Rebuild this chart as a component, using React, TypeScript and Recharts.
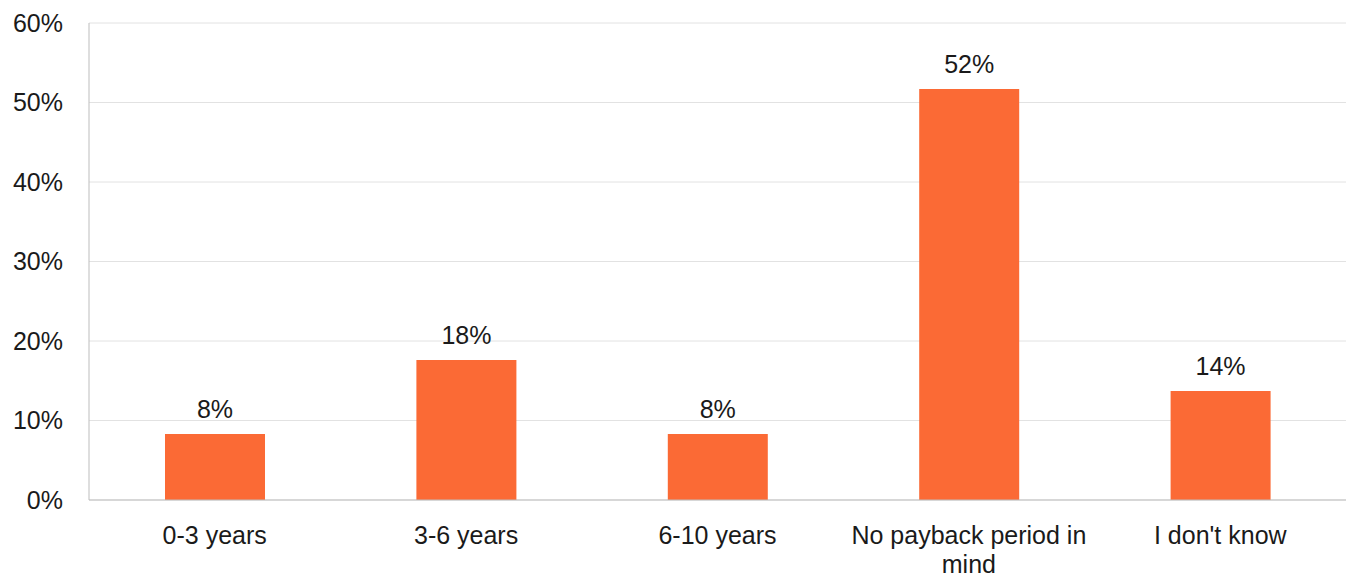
import React from "react";
import {
  BarChart,
  Bar,
  XAxis,
  YAxis,
  CartesianGrid,
  LabelList,
} from "recharts";

// Payback period survey answers (share of respondents, %)
const categories = [
  "0-3 years",
  "3-6 years",
  "6-10 years",
  "No payback period in mind",
  "I don't know",
];
const shares = [8.3, 17.6, 8.3, 51.7, 13.7];
const yTicks = [0, 10, 20, 30, 40, 50, 60];

const data = categories.map((name, i) => ({ name, share: shares[i] }));

const FONT = "'Liberation Sans', Arial, Helvetica, sans-serif";
const FONT_SIZE = 25;
const textStyle = { fontSize: FONT_SIZE, fontFamily: FONT };

// simple word wrap measured with a canvas
const measure = (() => {
  const ctx = document.createElement("canvas").getContext("2d")!;
  ctx.font = `${FONT_SIZE}px ${FONT}`;
  return (s: string) => ctx.measureText(s).width;
})();

const wrap = (label: string, maxWidth: number) => {
  const lines: string[] = [];
  let line = "";
  label.split(" ").forEach((w) => {
    const next = line ? `${line} ${w}` : w;
    if (line && measure(next) > maxWidth) {
      lines.push(line);
      line = w;
    } else {
      line = next;
    }
  });
  if (line) lines.push(line);
  return lines;
};

const CategoryTick = (props: any) => {
  const { x, y, payload } = props;
  const lines = wrap(String(payload.value), 262);
  return (
    <text x={x} y={y} textAnchor="middle" style={textStyle} fill="#1a1a1a">
      {lines.map((l, i) => (
        <tspan key={i} x={x} dy={i === 0 ? 18 : 29}>
          {l}
        </tspan>
      ))}
    </text>
  );
};

const App: React.FC = () => {
  return (
    <div style={{ position: "absolute", left: 0, top: 0 }}>
      <BarChart
        width={1349}
        height={578}
        data={data}
        margin={{ top: 23, right: 3, left: 0, bottom: 0 }}
      >
        <CartesianGrid vertical={false} stroke="#e2e2e2" />
        <XAxis
          dataKey="name"
          height={78}
          interval={0}
          tickLine={false}
          tickSize={0}
          tickMargin={26}
          axisLine={{ stroke: "#bdbdbd" }}
          tick={<CategoryTick />}
        />
        <YAxis
          width={89}
          domain={[0, 60]}
          ticks={yTicks}
          tickFormatter={(v: number) => `${v}%`}
          tickLine={false}
          tickSize={0}
          tickMargin={26}
          axisLine={{ stroke: "#bdbdbd" }}
          tick={{ ...textStyle, fill: "#1a1a1a" }}
        />
        <Bar dataKey="share" fill="#FB6A35" isAnimationActive={false} barSize={100}>
          <LabelList
            dataKey="share"
            position="top"
            offset={16}
            formatter={(v: any) => `${Math.round(Number(v))}%`}
            style={{ ...textStyle, fill: "#1a1a1a" }}
          />
        </Bar>
      </BarChart>
    </div>
  );
};

export default App;
